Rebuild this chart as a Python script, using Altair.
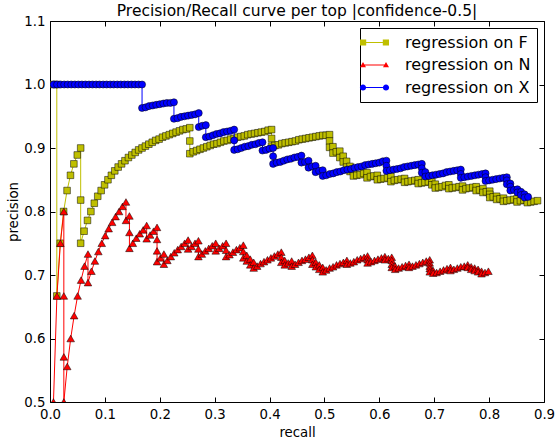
import altair as alt
import pandas as pd

SERIES = ["regression on F", "regression on N", "regression on X"]
COLORS = ["#bfbf00", "#ff0000", "#0000ff"]
LEGEND_SHAPES = [
    "M-2.9,-0.62H-1.66V0.62H-2.9Z M1.66,-0.62H2.9V0.62H1.66Z M-1.7,-0.1H1.7V0.1H-1.7Z",
    "M-2.3,-0.58L-1.7,0.46H-2.9Z M2.3,-0.58L2.9,0.46H1.7Z M-2.0,-0.1H2.0V0.1H-2.0Z",
    "M-2.92,0A0.62 0.62 0 1 0 -1.68,0A0.62 0.62 0 1 0 -2.92,0Z M1.68,0A0.62 0.62 0 1 0 2.92,0A0.62 0.62 0 1 0 1.68,0Z M-1.7,-0.1H1.7V0.1H-1.7Z",
]
X_TICKS = [0.0, 0.1, 0.2, 0.3, 0.4, 0.5, 0.6, 0.7, 0.8, 0.9]
Y_TICKS = [0.5, 0.6, 0.7, 0.8, 0.9, 1.0, 1.1]

# (recall, precision)
F_POINTS = [
    (.0062, 1.0), (.0124, 1.0), (.0124, .667), (.0186, .75), (.0248, .8), (.0311, .833), (.0373, .857),
    (.0435, .875), (.0497, .889), (.0559, .9), (.0559, .818), (.0559, .75),
    (.0621, .769), (.0683, .786), (.0745, .8), (.0807, .813), (.087, .824), (.0932, .833), (.0994, .842),
    (.1056, .85), (.1118, .857), (.118, .864), (.1242, .870), (.1304, .875), (.1366, .88), (.1429, .885),
    (.1491, .889), (.1553, .893), (.1615, .897), (.1677, .9), (.1739, .903), (.1801, .906), (.1863, .909),
    (.1925, .912), (.1988, .914), (.205, .917), (.2112, .919), (.2174, .921), (.2236, .923), (.2298, .925),
    (.236, .927), (.2422, .929), (.2484, .930), (.2547, .932),
    (.2547, .911), (.2547, .891),
    (.2609, .894), (.2671, .896), (.2733, .898), (.2795, .9), (.2857, .902), (.2919, .904), (.2981, .906),
    (.3043, .907), (.3106, .909), (.3168, .911), (.323, .912), (.3292, .914), (.3354, .915), (.3416, .917),
    (.3478, .918), (.354, .919), (.3602, .921), (.3665, .922), (.3727, .923), (.3789, .924), (.3851, .925),
    (.3913, .926), (.3975, .928), (.4037, .929),
    (.4037, .915), (.4037, .903),
    (.4099, .904), (.4161, .905), (.4224, .907), (.4286, .908), (.4348, .909), (.441, .910), (.4472, .911),
    (.4534, .913), (.4596, .914), (.4658, .915), (.472, .916), (.4783, .917), (.4845, .918), (.4907, .919),
    (.4969, .920), (.5031, .920), (.5093, .921),
    (.5093, .911), (.5093, .901), (.5155, .902), (.5155, .892), (.5217, .894), (.528, .895), (.528, .885),
    (.5342, .887), (.5342, .878), (.5404, .879), (.5404, .870), (.5466, .871), (.5466, .863), (.5528, .864),
    (.5528, .856), (.559, .857), (.5652, .858), (.5714, .860), (.5776, .861), (.5776, .853),
    (.5839, .855), (.5901, .856), (.5963, .857), (.5963, .850), (.6025, .851), (.6087, .852), (.6149, .853),
    (.6211, .855), (.6211, .847), (.6273, .849), (.6335, .85), (.6398, .851), (.646, .852), (.646, .846),
    (.6522, .847), (.6584, .848), (.6646, .849), (.6708, .850), (.6708, .844), (.677, .845), (.6832, .846),
    (.6894, .847), (.6957, .848), (.6957, .842), (.7019, .843), (.7019, .837), (.7081, .838), (.7143, .839),
    (.7205, .841), (.7267, .842), (.7267, .836), (.7329, .837), (.7391, .838), (.7453, .839), (.7516, .840),
    (.7516, .834), (.7578, .836), (.764, .837), (.7702, .838), (.7764, .839), (.7764, .833), (.7826, .834),
    (.7888, .836), (.7888, .830), (.795, .831), (.8012, .832), (.8012, .827), (.8012, .822), (.8075, .823),
    (.8137, .824), (.8137, .819), (.8199, .820), (.8261, .821), (.8261, .816), (.8323, .817), (.8385, .818),
    (.8447, .819), (.8509, .820), (.8509, .815), (.8571, .817), (.8634, .818), (.8696, .819), (.8696, .814),
    (.8758, .815), (.882, .816), (.8882, .817),
]

N_POINTS = [
    (.0063, .5), (.0126, .667), (.0189, .75), (.0252, .8), (.0252, .667), (.0252, .571), (.0252, .5),
    (.0314, .556), (.0377, .6), (.044, .636), (.0503, .667), (.0566, .692), (.0629, .714), (.0692, .733),
    (.0692, .688),
    (.0755, .706), (.0818, .722), (.0881, .737), (.0943, .75), (.1006, .762), (.1069, .773), (.1132, .783),
    (.1195, .792), (.1258, .8), (.1321, .808), (.1384, .815),
    (.1384, .786), (.1447, .793), (.1447, .767), (.1447, .742),
    (.1509, .75), (.1572, .758), (.1635, .765), (.1698, .771), (.1761, .778),
    (.1761, .757), (.1824, .763), (.1887, .769), (.195, .775),
    (.195, .756), (.195, .738), (.195, .721), (.2013, .727), (.2075, .733), (.2075, .717), (.2138, .723),
    (.2201, .729), (.2264, .735), (.2327, .74), (.239, .745), (.2453, .75), (.2516, .755),
    (.2516, .741), (.2579, .745), (.2642, .75), (.2704, .754), (.2704, .741), (.2704, .729), (.2767, .733),
    (.283, .738), (.2893, .742), (.2956, .746), (.3019, .75), (.3019, .738), (.3082, .742), (.3145, .746),
    (.3208, .75), (.3208, .739), (.3208, .729), (.327, .732), (.3333, .736), (.3396, .74), (.3459, .743),
    (.3522, .747), (.3522, .737), (.3522, .727),
    (.3585, .731), (.3585, .722), (.3648, .725), (.3648, .716), (.3711, .72), (.3711, .711), (.3774, .714),
    (.3836, .718), (.3899, .721), (.3962, .724), (.4025, .727), (.4088, .730), (.4151, .733), (.4214, .736),
    (.4214, .728), (.4214, .720), (.4277, .723), (.4277, .716), (.434, .719), (.4403, .722), (.4403, .714),
    (.4465, .717), (.4528, .72),
    (.4591, .723), (.4654, .725), (.4717, .728), (.478, .731),
    (.478, .724), (.478, .717), (.4843, .720), (.4843, .713), (.4906, .716), (.4906, .709), (.4969, .712),
    (.4969, .705), (.5031, .708),
    (.5094, .711), (.5157, .713), (.522, .716), (.5283, .718), (.5346, .720), (.5409, .723), (.5409, .717),
    (.5472, .719), (.5535, .721), (.5597, .724), (.566, .726), (.5723, .728), (.5786, .730),
    (.5786, .724), (.5786, .719), (.5849, .721), (.5912, .723), (.5975, .725), (.6038, .727), (.6101, .729),
    (.6101, .724), (.6164, .726), (.6226, .728),
    (.6226, .723), (.6226, .717), (.6226, .712), (.6289, .714), (.6289, .709),
    (.6352, .711), (.6415, .713), (.6478, .715), (.6541, .717), (.6541, .712), (.6604, .714), (.6667, .716),
    (.673, .718), (.6792, .72), (.6855, .722), (.6918, .724),
    (.6918, .719), (.6918, .714), (.6918, .710), (.6918, .705), (.6981, .707), (.6981, .703),
    (.7044, .704), (.7107, .706), (.717, .708), (.7233, .710), (.7296, .712), (.7296, .707), (.7358, .709),
    (.7421, .711), (.7484, .713), (.7547, .714), (.761, .716),
    (.761, .712), (.7673, .713), (.7673, .709), (.7736, .711), (.7736, .707), (.7799, .709), (.7799, .705),
    (.7862, .706), (.7862, .702), (.7925, .704), (.7987, .706),
]

X_POINTS = [
    (.0065, 1.0), (.0129, 1.0), (.0194, 1.0), (.0258, 1.0), (.0323, 1.0), (.0387, 1.0), (.0452, 1.0),
    (.0516, 1.0), (.0581, 1.0), (.0645, 1.0), (.071, 1.0), (.0774, 1.0), (.0839, 1.0), (.0903, 1.0),
    (.0968, 1.0), (.1032, 1.0), (.1097, 1.0), (.1161, 1.0), (.1226, 1.0), (.129, 1.0), (.1355, 1.0),
    (.1419, 1.0), (.1484, 1.0), (.1548, 1.0), (.1613, 1.0), (.1677, 1.0),
    (.1677, .963), (.1742, .964), (.1806, .966), (.1871, .967), (.1935, .968), (.2, .969), (.2065, .970),
    (.2129, .971), (.2194, .971), (.2258, .972),
    (.2258, .946), (.2323, .947), (.2387, .949), (.2452, .95), (.2516, .951), (.2581, .952), (.2645, .953),
    (.271, .955),
    (.271, .933), (.2774, .935), (.2839, .936),
    (.2839, .917), (.2903, .918), (.2968, .92), (.3032, .922), (.3097, .923), (.3161, .925), (.3226, .926),
    (.329, .927), (.3355, .929),
    (.3355, .912), (.3355, .897), (.3419, .898), (.3484, .9), (.3548, .902), (.3613, .903), (.3677, .905),
    (.3742, .906), (.3806, .908), (.3871, .909),
    (.3871, .896), (.3935, .897), (.4, .899), (.4065, .9),
    (.4065, .887), (.4065, .875), (.4129, .877), (.4194, .878), (.4258, .88), (.4323, .882), (.4387, .883),
    (.4452, .885), (.4516, .886), (.4581, .888),
    (.4581, .877), (.4645, .878), (.471, .880), (.471, .869), (.4774, .871), (.4839, .872), (.4839, .862),
    (.4903, .864), (.4968, .865), (.4968, .856),
    (.5032, .857), (.5097, .859), (.5161, .860), (.5226, .862), (.529, .863), (.5355, .865), (.5419, .866),
    (.5484, .867), (.5548, .869), (.5613, .87), (.5677, .871), (.5742, .873), (.5806, .874), (.5871, .875),
    (.5935, .876), (.6, .877), (.6065, .879), (.6129, .880),
    (.6129, .872), (.6129, .864), (.6194, .865), (.6258, .866), (.6323, .867), (.6387, .868), (.6452, .870),
    (.6516, .871), (.6581, .872), (.6645, .873), (.671, .874), (.6774, .875),
    (.6774, .868), (.6774, .861), (.6839, .862), (.6839, .855),
    (.6903, .856), (.6968, .857), (.7032, .858), (.7097, .859), (.7161, .860), (.7226, .862), (.729, .863),
    (.7355, .864), (.7419, .865), (.7484, .866),
    (.7484, .859), (.7484, .853), (.7548, .854), (.7613, .855), (.7677, .856), (.7742, .857), (.7806, .858),
    (.7871, .859), (.7935, .860),
    (.7935, .854), (.7935, .848), (.8, .849), (.8065, .850), (.8129, .851), (.8194, .852), (.8258, .853),
    (.8323, .854),
    (.8323, .849), (.8323, .843), (.8387, .844), (.8387, .839), (.8387, .833), (.8452, .834), (.8516, .835),
    (.8516, .830), (.8581, .831), (.8581, .826), (.8645, .827), (.8645, .822), (.871, .823),
]

W, H = 494, 381
FONT = "DejaVu Sans"


def table(points, name):
    df = pd.DataFrame(points, columns=["recall", "precision"])
    df["step"] = list(range(len(df)))
    df["series"] = name
    return df


F_DF = table(F_POINTS, SERIES[0])
N_DF = table(N_POINTS, SERIES[1])
X_DF = table(X_POINTS, SERIES[2])

xs = alt.Scale(domain=[0, 0.9], nice=False, zero=False)
ys = alt.Scale(domain=[0.5, 1.1], nice=False, zero=False)


def ax(orient, values, **kw):
    base = dict(orient=orient, values=values, grid=False, domain=False,
                labelFont=FONT, titleFont=FONT, labelColor="black",
                titleColor="black", tickColor="black", labelFlush=False,
                labelOverlap=False, labelBound=False)
    base.update(kw)
    return alt.Axis(**base)


label_x = ax("bottom", X_TICKS, format=".1f", ticks=False, tickSize=0, labelPadding=5,
             labelFontSize=13.3, title="recall", titleFontSize=13.3,
             titleFontWeight="normal", titlePadding=5)
label_y = ax("left", Y_TICKS, format=".1f", ticks=False, tickSize=0, labelPadding=5,
             labelFontSize=13.3, title="precision", titleFontSize=13.3,
             titleFontWeight="normal", titlePadding=3)
tick_x_bottom = ax("top", X_TICKS, offset=-H, labels=False, ticks=True, tickSize=5,
                   tickWidth=1, title=None)
tick_x_top = ax("bottom", X_TICKS, offset=-H, labels=False, ticks=True, tickSize=5,
                tickWidth=1, title=None)
tick_y_left = ax("right", Y_TICKS, offset=-W, labels=False, ticks=True, tickSize=5,
                 tickWidth=1, title=None)
tick_y_right = ax("left", Y_TICKS, offset=-W, labels=False, ticks=True, tickSize=5,
                  tickWidth=1, title=None)


def line(df, color, xa=None, ya=None):
    return alt.Chart(df).mark_line(color=color, strokeWidth=1, clip=True).encode(
        x=alt.X("recall:Q", scale=xs, axis=xa),
        y=alt.Y("precision:Q", scale=ys, axis=ya),
        order=alt.Order("step:Q"),
    )


def pts(df, color, shape, size, xa=None, ya=None):
    return alt.Chart(df).mark_point(
        shape=shape, filled=True, fill=color, stroke="black", strokeWidth=0.5,
        size=size, opacity=1, clip=True,
    ).encode(
        x=alt.X("recall:Q", scale=xs, axis=xa),
        y=alt.Y("precision:Q", scale=ys, axis=ya),
    )


legend = alt.Legend(
    title=None, orient="top-right", offset=7, padding=6.5, strokeColor="black",
    fillColor="white", labelFont=FONT, labelFontSize=16, labelColor="black",
    rowPadding=6.5, labelOffset=22.5, symbolOpacity=1,
    symbolStrokeWidth=0, symbolSize=100, cornerRadius=0,
)

key = alt.Chart(pd.DataFrame({"series": SERIES})).mark_point(
    filled=True, size=100, opacity=0, strokeWidth=0
).encode(
    fill=alt.Fill("series:N", scale=alt.Scale(domain=SERIES, range=COLORS), legend=legend),
    shape=alt.Shape("series:N", scale=alt.Scale(domain=SERIES, range=LEGEND_SHAPES), legend=legend),
)

chart = alt.layer(
    line(F_DF, COLORS[0], label_x, label_y),
    pts(F_DF, COLORS[0], "square", 44, tick_x_bottom, tick_y_left),
    line(N_DF, COLORS[1], tick_x_top, tick_y_right),
    pts(N_DF, COLORS[1], "triangle-up", 58),
    line(X_DF, COLORS[2]),
    pts(X_DF, COLORS[2], "circle", 50),
    key,
).resolve_axis(
    x="independent", y="independent"
).properties(
    width=W, height=H,
    title=alt.Title("Precision/Recall curve per top |confidence-0.5|", font=FONT,
                    fontSize=15.5, fontWeight="normal", color="black",
                    anchor="middle", offset=-5),
    autosize=alt.AutoSizeParams(type="none"),
    padding={"left": 50, "top": 21, "right": 11, "bottom": 41},
).configure_view(stroke="black", strokeWidth=1)

chart.save("out.html", embed_options={"renderer": "svg", "actions": False})
